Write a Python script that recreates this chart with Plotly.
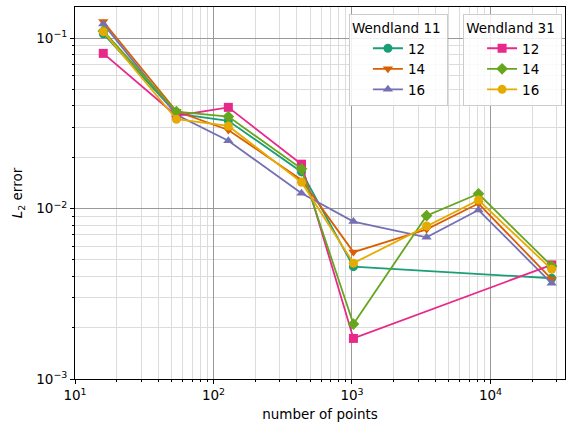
import plotly.graph_objects as go

# number of interpolation points
n_points = [16, 54, 128, 432, 1024, 3456, 8192, 27648]

# L2 errors, Wendland 11 kernels (None = not computed)
w11_12 = [0.106, 0.0360, 0.0327, 0.0164, 0.00456, None, None, 0.00390]
w11_14 = [0.125, 0.0372, 0.0289, 0.0147, 0.00555, 0.00755, 0.0107, 0.00385]
w11_16 = [0.121, 0.0355, 0.0250, 0.0123, 0.00838, 0.00678, 0.0098, 0.00364]

# L2 errors, Wendland 31 kernels
w31_12 = [0.0813, 0.0350, 0.0392, 0.0182, 0.00173, None, None, 0.00467]
w31_14 = [0.110, 0.0370, 0.0346, 0.0171, 0.00210, 0.00908, 0.0122, 0.00460]
w31_16 = [0.109, 0.0334, 0.0305, 0.01425, 0.00478, 0.00790, 0.0112, 0.00440]

series = [
    ("12", w11_12, "#1b9e77", "circle", "legend"),
    ("14", w11_14, "#d95f02", "triangle-down", "legend"),
    ("16", w11_16, "#7570b3", "triangle-up", "legend"),
    ("12", w31_12, "#e7298a", "square", "legend2"),
    ("14", w31_14, "#66a61e", "diamond", "legend2"),
    ("16", w31_16, "#e6ab02", "circle", "legend2"),
]

FONT = "DejaVu Sans"
FS = 13.5
fig = go.Figure()
for name, vals, color, sym, leg in series:
    fig.add_trace(go.Scatter(
        x=n_points, y=vals, name=name, mode="lines+markers",
        connectgaps=True, legend=leg,
        line=dict(color=color, width=1.8),
        marker=dict(symbol=sym, size=9, color=color, line=dict(width=0)),
    ))

decades_x = [10, 100, 1000, 10000]
decades_y = [0.001, 0.01, 0.1]
minor_x = [m * d for d in [10, 100, 1000, 10000] for m in range(2, 10)]
minor_y = [m * d for d in [0.001, 0.01, 0.1] for m in range(2, 10)]


def log_axis(minor_vals):
    return dict(
        type="log", showline=True, linecolor="black", linewidth=1, mirror=True,
        ticks="outside", ticklen=4, tickcolor="black",
        showgrid=True, gridcolor="#999999", gridwidth=1, zeroline=False,
        tickfont=dict(family=FONT, size=FS, color="black"),
        minor=dict(tickmode="array", tickvals=minor_vals,
                   showgrid=True, gridcolor="#dcdcdc", gridwidth=1,
                   ticks="outside", ticklen=2, tickcolor="black"),
    )


legend_common = dict(
    bgcolor="rgba(255,255,255,0.85)", bordercolor="#cccccc", borderwidth=1,
    font=dict(family=FONT, size=FS), indentation=18, tracegroupgap=0,
    y=0.98, yanchor="top", xanchor="left",
)

NB = "\u00a0"
fig.update_layout(
    width=566, height=426,
    margin=dict(l=75, r=1, t=7, b=47),
    paper_bgcolor="white", plot_bgcolor="white",
    font=dict(family=FONT, size=FS, color="black"),
    xaxis=dict(
        log_axis(minor_x), range=[1, 4.538],
        tickvals=decades_x,
        ticktext=["10<sup>1</sup>", "10<sup>2</sup>", "10<sup>3</sup>", "10<sup>4</sup>"],
        title=dict(text="number of points", font=dict(family=FONT, size=FS), standoff=7),
    ),
    yaxis=dict(
        log_axis(minor_y), range=[-3, -0.818],
        tickvals=decades_y,
        ticktext=["10<sup>\u22123</sup>", "10<sup>\u22122</sup>", "10<sup>\u22121</sup>"],
        title=dict(text="<i>L</i><sub>2</sub> error", font=dict(family=FONT, size=FS), standoff=10),
    ),
    legend=dict(
        legend_common, x=0.559,
        title=dict(text="Wendland 11" + NB, side="top center", font=dict(family=FONT, size=FS)),
    ),
    legend2=dict(
        legend_common, x=0.792,
        title=dict(text="Wendland 31" + NB, side="top center", font=dict(family=FONT, size=FS)),
    ),
)

fig.write_html("out.html")
